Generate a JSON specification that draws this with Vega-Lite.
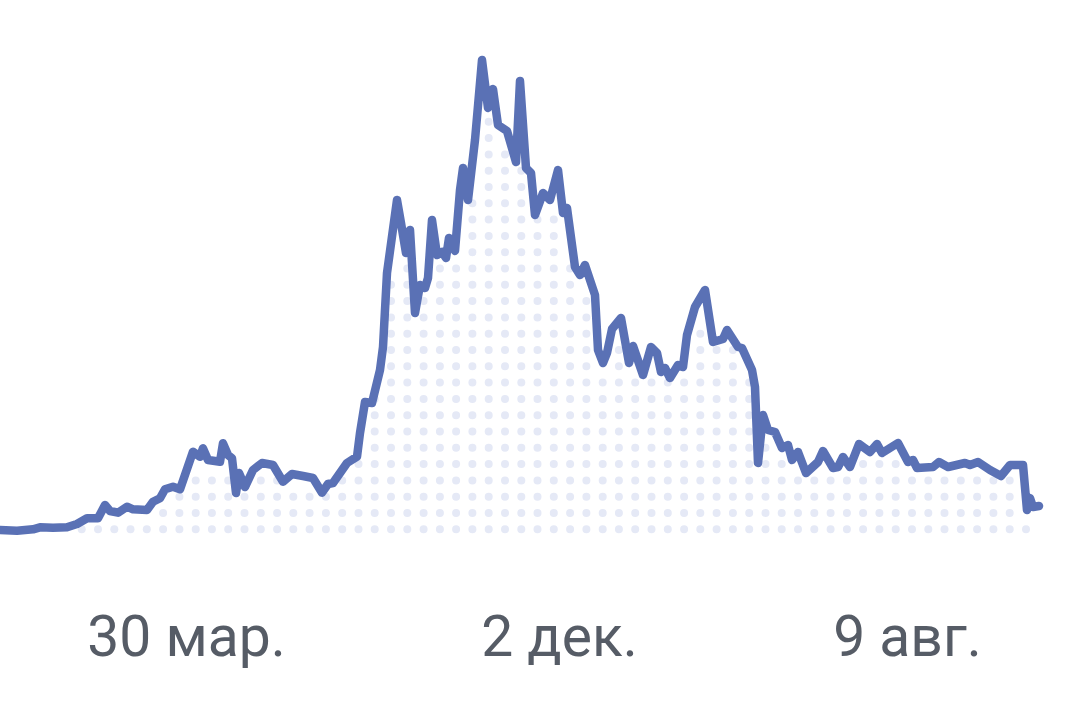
{
  "$schema": "https://vega.github.io/schema/vega-lite/v6.json",
  "width": 1080,
  "height": 600,
  "padding": {"left": 0, "top": 0, "right": 0, "bottom": 119},
  "autosize": "none",
  "background": "white",
  "config": {"view": {"stroke": null}},
  "datasets": {
    "series": [
      {"t":0,"v":1},{"t":17,"v":0.3},{"t":33,"v":1.7},{"t":40,"v":3.7},{"t":53,"v":3.3},{"t":67,"v":3.7},{"t":77,"v":7},{"t":87,"v":12.7},{"t":98,"v":12.7},{"t":105,"v":26},
      {"t":110,"v":20},{"t":118,"v":18.3},{"t":127,"v":24.3},{"t":133,"v":21.7},{"t":147,"v":21},{"t":153,"v":29.3},{"t":160,"v":32.7},{"t":165,"v":41.7},{"t":173,"v":44.3},{"t":180,"v":41.7},
      {"t":193,"v":79.3},{"t":200,"v":74.3},{"t":203,"v":82.7},{"t":208,"v":71},{"t":220,"v":69.3},{"t":223,"v":87.7},{"t":228,"v":76},{"t":232,"v":72.7},{"t":236,"v":38},{"t":239,"v":58},
      {"t":245,"v":44},{"t":253,"v":61},{"t":262,"v":68},{"t":273,"v":66},{"t":283,"v":49.3},{"t":292,"v":57},{"t":303,"v":55},{"t":313,"v":53},{"t":322,"v":38.3},{"t":328,"v":47},
      {"t":333,"v":48},{"t":347,"v":68},{"t":357,"v":74.3},{"t":360,"v":98},{"t":365,"v":129},{"t":372,"v":128},{"t":380,"v":161},{"t":383,"v":184},{"t":387,"v":258},{"t":397,"v":331},
      {"t":401,"v":308},{"t":406,"v":278},{"t":410,"v":301},{"t":415,"v":218},{"t":420,"v":246},{"t":425,"v":243},{"t":428,"v":253},{"t":432,"v":311},{"t":437,"v":276},{"t":442,"v":279},
      {"t":446,"v":273},{"t":449,"v":293},{"t":455,"v":280},{"t":460,"v":341},{"t":463,"v":363},{"t":468,"v":331},{"t":475,"v":391},{"t":482,"v":471},{"t":488,"v":423},{"t":493,"v":442},
      {"t":498,"v":406},{"t":507,"v":400},{"t":516,"v":369},{"t":520,"v":450},{"t":526,"v":363},{"t":531,"v":358},{"t":535,"v":316},{"t":543,"v":338},{"t":550,"v":331},{"t":558,"v":361},
      {"t":563,"v":318},{"t":567,"v":323},{"t":575,"v":264},{"t":580,"v":256},{"t":585,"v":266},{"t":595,"v":236},{"t":598,"v":181},{"t":603,"v":168},{"t":607,"v":178},{"t":612,"v":202},
      {"t":621,"v":213},{"t":629,"v":168},{"t":633,"v":185},{"t":643,"v":156},{"t":651,"v":184},{"t":657,"v":178},{"t":661,"v":159},{"t":665,"v":163},{"t":670,"v":153},{"t":678,"v":166},
      {"t":683,"v":164},{"t":687,"v":196},{"t":695,"v":224},{"t":705,"v":241},{"t":713,"v":189},{"t":723,"v":192},{"t":727,"v":201},{"t":738,"v":184},{"t":742,"v":183},{"t":752,"v":161},
      {"t":755,"v":144},{"t":758,"v":68},{"t":763,"v":116},{"t":768,"v":101},{"t":775,"v":99},{"t":782,"v":83},{"t":788,"v":86},{"t":792,"v":71},{"t":798,"v":79},{"t":806,"v":58},
      {"t":818,"v":69},{"t":823,"v":80},{"t":833,"v":63},{"t":838,"v":64},{"t":843,"v":74},{"t":850,"v":64},{"t":859,"v":87},{"t":870,"v":79},{"t":877,"v":87},{"t":882,"v":78},
      {"t":898,"v":88},{"t":908,"v":69},{"t":913,"v":71},{"t":917,"v":63},{"t":933,"v":64},{"t":939,"v":69},{"t":948,"v":64},{"t":965,"v":68},{"t":970,"v":66},{"t":978,"v":69},
      {"t":990,"v":61},{"t":1001,"v":55},{"t":1010,"v":66},{"t":1023,"v":66},{"t":1027,"v":21},{"t":1030,"v":33},{"t":1033,"v":24},{"t":1039,"v":25}
    ],
    "dots": [
      {"t":81.7,"base":1.7,"top":3.7},{"t":98,"base":1.7,"top":3.7},{"t":114.3,"base":1.7,"top":3.7},{"t":130.5,"base":1.7,"top":3.7},{"t":146.8,"base":1.7,"top":3.7},{"t":163.1,"base":1.7,"top":20},{"t":179.4,"base":1.7,"top":36.3},{"t":195.7,"base":1.7,"top":52.6},{"t":211.9,"base":1.7,"top":52.6},{"t":228.2,"base":1.7,"top":52.6},
      {"t":244.5,"base":1.7,"top":36.3},{"t":260.8,"base":1.7,"top":52.6},{"t":277.1,"base":1.7,"top":52.6},{"t":293.3,"base":1.7,"top":36.3},{"t":309.6,"base":1.7,"top":36.3},{"t":325.9,"base":1.7,"top":36.3},{"t":342.2,"base":1.7,"top":52.6},{"t":358.5,"base":1.7,"top":68.9},{"t":374.7,"base":1.7,"top":134.1},{"t":391,"base":1.7,"top":248.2},
      {"t":407.3,"base":1.7,"top":264.5},{"t":423.6,"base":1.7,"top":231.9},{"t":439.9,"base":1.7,"top":264.5},{"t":456.1,"base":1.7,"top":264.5},{"t":472.4,"base":1.7,"top":329.7},{"t":488.7,"base":1.7,"top":411.2},{"t":505,"base":1.7,"top":378.6},{"t":521.3,"base":1.7,"top":362.3},{"t":537.5,"base":1.7,"top":313.4},{"t":553.8,"base":1.7,"top":313.4},
      {"t":570.1,"base":1.7,"top":264.5},{"t":586.4,"base":1.7,"top":231.9},{"t":602.7,"base":1.7,"top":150.4},{"t":618.9,"base":1.7,"top":183},{"t":635.2,"base":1.7,"top":150.4},{"t":651.5,"base":1.7,"top":150.4},{"t":667.8,"base":1.7,"top":150.4},{"t":684.1,"base":1.7,"top":150.4},{"t":700.3,"base":1.7,"top":199.3},{"t":716.6,"base":1.7,"top":183},
      {"t":732.9,"base":1.7,"top":183},{"t":749.2,"base":1.7,"top":150.4},{"t":765.5,"base":1.7,"top":85.2},{"t":781.7,"base":1.7,"top":68.9},{"t":798,"base":1.7,"top":52.6},{"t":814.3,"base":1.7,"top":52.6},{"t":830.6,"base":1.7,"top":52.6},{"t":846.9,"base":1.7,"top":52.6},{"t":863.1,"base":1.7,"top":68.9},{"t":879.4,"base":1.7,"top":68.9},
      {"t":895.7,"base":1.7,"top":68.9},{"t":912,"base":1.7,"top":52.6},{"t":928.3,"base":1.7,"top":52.6},{"t":944.5,"base":1.7,"top":52.6},{"t":960.8,"base":1.7,"top":52.6},{"t":977.1,"base":1.7,"top":52.6},{"t":993.4,"base":1.7,"top":52.6},{"t":1009.7,"base":1.7,"top":52.6},{"t":1026,"base":1.7,"top":3.7}
    ]
  },
  "layer": [
    {
      "data": {"name": "dots"},
      "mark": {"type": "rule", "color": "#e5e9f6", "strokeWidth": 8, "strokeCap": "round", "strokeDash": [0, 16.3]},
      "encoding": {
        "x": {
          "field": "t",
          "type": "quantitative",
          "scale": {"domain": [0, 1080], "nice": false, "zero": false},
          "axis": {
            "title": null,
            "domain": false,
            "grid": false,
            "ticks": false,
            "values": [186, 559, 907],
            "labelExpr": "datum.value == 186 ? '30 мар.' : datum.value == 559 ? '2 дек.' : '9 авг.'",
            "labelFont": "Roboto",
            "labelFontSize": 57,
            "labelLimit": 400,
            "labelColor": "#565c66",
            "labelPadding": 10,
            "labelOverlap": false,
            "labelFlush": false,
            "labelBound": false
          }
        },
        "y": {
          "field": "base",
          "type": "quantitative",
          "scale": {"domain": [-69, 531], "nice": false, "zero": false},
          "axis": null
        },
        "y2": {"field": "top"}
      }
    },
    {
      "data": {"name": "series"},
      "mark": {"type": "line", "color": "#5a71b5", "strokeWidth": 8.5, "strokeCap": "round", "strokeJoin": "round"},
      "encoding": {
        "x": {"field": "t", "type": "quantitative"},
        "y": {"field": "v", "type": "quantitative"}
      }
    }
  ]
}
